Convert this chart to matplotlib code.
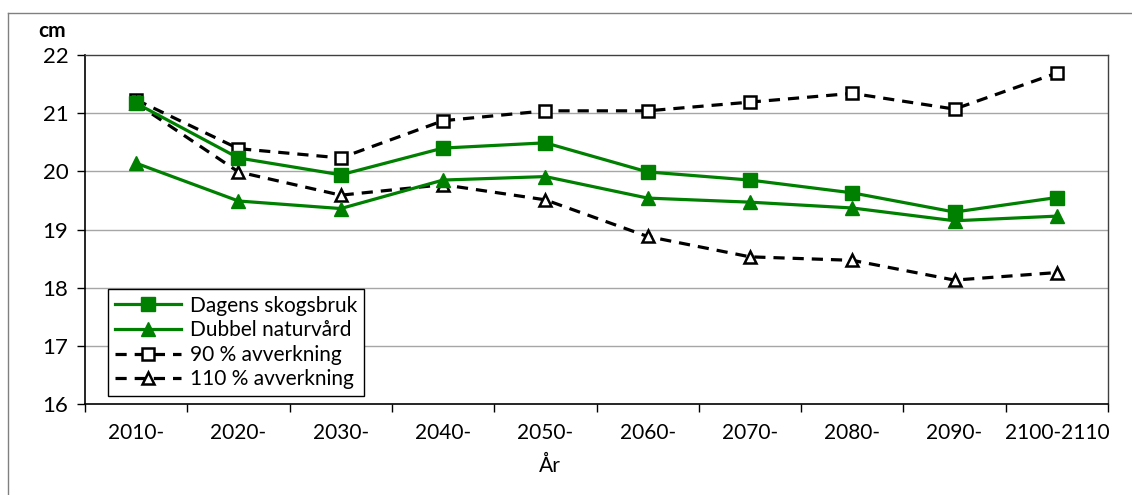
import matplotlib
matplotlib.use("Agg")
import matplotlib.pyplot as plt
from matplotlib.lines import Line2D

plt.rcParams['font.family'] = ['Lato', 'DejaVu Sans']

categories = ["2010-", "2020-", "2030-", "2040-", "2050-", "2060-", "2070-", "2080-", "2090-", "2100-2110"]
dagens = [21.17, 20.23, 19.94, 20.40, 20.49, 19.99, 19.85, 19.63, 19.30, 19.55]
dubbel = [20.14, 19.49, 19.36, 19.85, 19.91, 19.54, 19.47, 19.37, 19.15, 19.23]
avv90 = [21.23, 20.39, 20.23, 20.87, 21.04, 21.04, 21.19, 21.34, 21.07, 21.69]
avv110 = [21.17, 19.99, 19.59, 19.77, 19.51, 18.88, 18.53, 18.47, 18.13, 18.26]
labels = ["Dagens skogsbruk", "Dubbel naturvård", "90 % avverkning", "110 % avverkning"]
yticks = [16, 17, 18, 19, 20, 21, 22]

W, H = 1132, 495
FS = 15
fig = plt.figure(figsize=(W / 100, H / 100), dpi=100)
ax = fig.add_axes([85 / W, 1 - 404 / H, (1108 - 85) / W, (404 - 55) / H])

x = list(range(len(categories)))
green = '#008000'
ax.plot(x, dagens, color=green, lw=2.3, marker='s', ms=10, mfc=green, mec=green, label=labels[0], zorder=4)
ax.plot(x, dubbel, color=green, lw=2.3, marker='^', ms=10, mfc=green, mec=green, label=labels[1], zorder=4)
ax.plot(x, avv90, color='black', lw=2.3, ls=(0, (3.5, 2.5)), marker='s', ms=9, mfc='white', mec='black', mew=1.8, label=labels[2], zorder=3)
ax.plot(x, avv110, color='black', lw=2.3, ls=(0, (3.5, 2.5)), marker='^', ms=9, mfc='white', mec='black', mew=1.8, label=labels[3], zorder=3)

ax.set_xlim(-0.5, len(categories) - 0.5)
ax.set_ylim(16, 22)
ax.set_yticks(yticks)
ax.set_yticklabels([str(v) for v in yticks], fontsize=FS + 1)
ax.tick_params(axis='y', direction='out', length=6, width=1, pad=6)
ax.set_xticks([i - 0.5 for i in range(len(categories) + 1)])
ax.set_xticklabels([])
ax.set_xticks(x, minor=True)
ax.set_xticklabels(categories, minor=True, fontsize=FS)
ax.tick_params(axis='x', which='major', direction='out', length=6, width=1)
ax.tick_params(axis='x', which='minor', length=0, pad=14)

for v in yticks[1:-1]:
    ax.axhline(v, color='#a6a6a6', lw=1, zorder=1)
for s in ['left', 'bottom']:
    ax.spines[s].set_color('black')
    ax.spines[s].set_linewidth(1.2)
for s in ['top', 'right']:
    ax.spines[s].set_color('#404040')
    ax.spines[s].set_linewidth(1)

ax.text(-0.032, 1.07, 'cm', transform=ax.transAxes, fontsize=FS, fontweight='bold', ha='center', va='center')
fig.text(550 / W, 1 - 466 / H, 'År', fontsize=FS, ha='center', va='center')

leg = ax.legend(loc='upper left', bbox_to_anchor=(108 / W, 1 - 289 / H), bbox_transform=fig.transFigure,
                fontsize=FS, frameon=True, fancybox=False, edgecolor='black', framealpha=1,
                handlelength=3.2, labelspacing=0.22, borderpad=0.32, handletextpad=0.4, borderaxespad=0)
leg.get_frame().set_linewidth(1)

fig.add_artist(Line2D([8 / W, 8 / W], [0, 1 - 13 / H], transform=fig.transFigure, color='#808080', lw=1))
fig.add_artist(Line2D([8 / W, 1], [1 - 13 / H, 1 - 13 / H], transform=fig.transFigure, color='#808080', lw=1))

fig.savefig('out.png', dpi=100)
